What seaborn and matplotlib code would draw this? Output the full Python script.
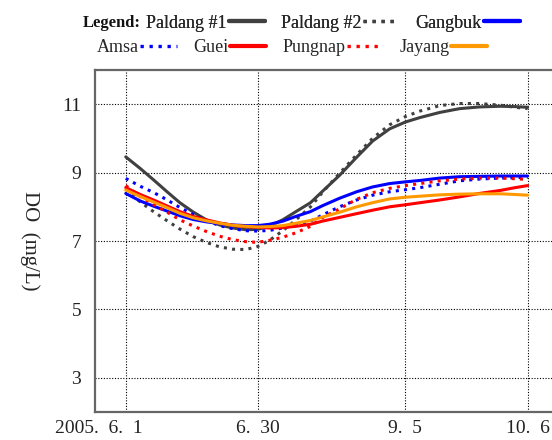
import numpy as np
import pandas as pd
import seaborn as sns
import matplotlib.pyplot as plt
from matplotlib.lines import Line2D
from matplotlib.transforms import ScaledTranslation

# sampling positions along the x axis (tick at 6.1 = 0, 6.30 = 1)
x_pos = [0, 0.11, 0.21, 0.31, 0.41, 0.51, 0.61, 0.71, 0.81, 0.91, 1.0, 1.09, 1.19, 1.29,
         1.4, 1.49, 1.62, 1.75, 1.87, 2.0, 2.12, 2.23, 2.38, 2.53, 2.68, 2.84, 2.95, 3.045]
tick_pos = [0, 1, 2.116, 3.045]
tick_labels = ["2005.  6.  1", "6.  30", "9.  5", "10.  6"]

sites = ["Paldang #1", "Paldang #2", "Gangbuk", "Amsa", "Guei", "Pungnap", "Jayang"]
paldang1 = [9.46, 9.12, 8.79, 8.45, 8.12, 7.85, 7.62, 7.47, 7.38, 7.33, 7.34, 7.44, 7.62, 7.86,
            8.12, 8.45, 8.92, 9.45, 9.92, 10.28, 10.48, 10.61, 10.76, 10.87, 10.92, 10.94, 10.93, 10.91]
paldang2 = [8.52, 8.14, 7.86, 7.60, 7.35, 7.13, 6.96, 6.83, 6.76, 6.75, 6.84, 7.02, 7.30, 7.62,
            8.0, 8.42, 8.98, 9.52, 10.0, 10.40, 10.64, 10.80, 10.96, 11.02, 11.02, 10.97, 10.91, 10.87]
gangbuk = [8.39, 8.17, 8.02, 7.88, 7.74, 7.63, 7.56, 7.51, 7.47, 7.45, 7.45, 7.49, 7.58, 7.72,
           7.86, 8.03, 8.25, 8.44, 8.58, 8.68, 8.73, 8.77, 8.84, 8.88, 8.89, 8.90, 8.90, 8.90]
amsa = [8.83, 8.60, 8.42, 8.21, 7.98, 7.78, 7.60, 7.45, 7.36, 7.30, 7.29, 7.31, 7.38, 7.47,
        7.58, 7.76, 8.00, 8.20, 8.34, 8.44, 8.50, 8.56, 8.66, 8.76, 8.81, 8.84, 8.85, 8.86]
guei = [8.56, 8.36, 8.20, 8.03, 7.86, 7.72, 7.62, 7.53, 7.46, 7.42, 7.40, 7.38, 7.39, 7.43,
        7.49, 7.58, 7.69, 7.80, 7.90, 8.00, 8.06, 8.12, 8.20, 8.29, 8.39, 8.48, 8.56, 8.62]
pungnap = [8.62, 8.30, 8.07, 7.85, 7.62, 7.44, 7.28, 7.14, 7.04, 6.98, 6.96, 7.02, 7.11, 7.24,
           7.43, 7.68, 7.94, 8.22, 8.41, 8.54, 8.62, 8.68, 8.76, 8.81, 8.84, 8.84, 8.82, 8.80]
jayang = [8.49, 8.30, 8.14, 7.98, 7.81, 7.68, 7.59, 7.52, 7.46, 7.43, 7.41, 7.42, 7.45, 7.52,
          7.60, 7.70, 7.84, 8.00, 8.12, 8.23, 8.28, 8.31, 8.35, 8.37, 8.38, 8.38, 8.36, 8.34]

colors = ["#404040", "#404040", "#0000ff", "#0000ff", "#ff0000", "#ff0000", "#ff9900"]
dotted = [False, True, False, True, False, True, False]

series = [paldang1, paldang2, gangbuk, amsa, guei, pungnap, jayang]
df = pd.DataFrame({
    "x": np.tile(x_pos, len(sites)),
    "DO": np.concatenate(series),
    "site": np.repeat(sites, len(x_pos)),
})

sns.set_style("white")
plt.rcParams["font.family"] = ["Liberation Serif", "DejaVu Serif"]

dot = (1, 1.7)
fig = plt.figure(figsize=(5.52, 4.40), dpi=100)
ax = fig.add_axes([95 / 552, 1 - 412 / 440, 1 - 95 / 552, (412 - 70) / 440])

sns.lineplot(data=df, x="x", y="DO", hue="site", style="site",
             palette=dict(zip(sites, colors)),
             dashes={s: (dot if d else "") for s, d in zip(sites, dotted)},
             estimator=None, linewidth=2.2, legend=False, ax=ax)

ax.set_xlim(-0.233, 3.23)
ax.set_ylim(2, 12)
ax.set_yticks([3, 5, 7, 9, 11])
ax.set_xticks(tick_pos)
ax.set_xticklabels(tick_labels)
ax.set_xlabel("")
ax.set_ylabel("DO  (mg/L)", rotation=270, fontsize=15)
ax.yaxis.set_label_coords(-0.165, 0.5)
ax.tick_params(axis="both", length=0, labelsize=14, colors="#222222")
ax.tick_params(axis="y", pad=10)
ax.tick_params(axis="x", pad=6)
ax.grid(True, linestyle=(0, (1, 1.5)), color="black", linewidth=0.8)
for s in ["left", "top", "bottom"]:
    ax.spines[s].set_color("#666666")
    ax.spines[s].set_linewidth(1.6)
ax.spines["right"].set_visible(False)

# shift first tick label so "6. 1" sits under the tick
first = ax.get_xticklabels()[0]
first.set_transform(first.get_transform() + ScaledTranslation(-0.27, 0, fig.dpi_scale_trans))

handles = [Line2D([], [], color=c, linewidth=3 if not d else 2.4,
                  linestyle=(0, dot) if d else "-")
           for c, d in zip(colors, dotted)]

fig.text(83 / 552, 1 - 23 / 440, "Legend:", fontsize=12, fontweight="bold",
         ha="left", va="center", color="#111111")
leg1 = fig.legend(handles[:3], sites[:3], ncol=3, markerfirst=False, frameon=False,
                  handletextpad=0.1, columnspacing=0.9, handlelength=2.0, fontsize=13,
                  loc="center", bbox_to_anchor=(333 / 552, 1 - 23 / 440))
fig.add_artist(leg1)
fig.legend(handles[3:], sites[3:], ncol=4, markerfirst=False, frameon=False,
           handletextpad=0.1, columnspacing=0.9, handlelength=2.0, fontsize=13,
           loc="center", bbox_to_anchor=(292 / 552, 1 - 48 / 440))

fig.savefig("out.png", dpi=100)
